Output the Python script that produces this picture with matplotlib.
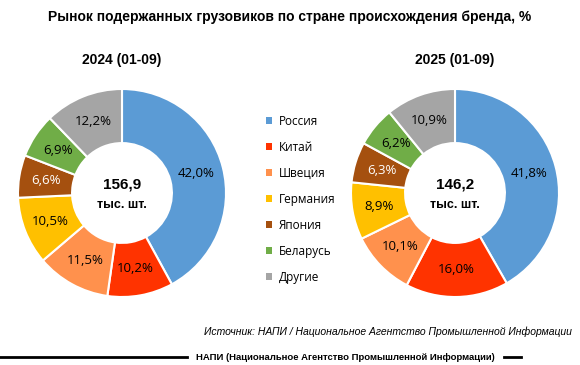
import matplotlib
matplotlib.use("Agg")
import matplotlib.pyplot as plt
import numpy as np
from matplotlib.lines import Line2D
from matplotlib.patches import Patch

categories = ["Россия", "Китай", "Швеция", "Германия", "Япония", "Беларусь", "Другие"]
colors = ["#5B9BD5", "#FF3300", "#FF914D", "#FFC000", "#A5500F", "#70AD47", "#A5A5A5"]
values_2024 = [42.0, 10.2, 11.5, 10.5, 6.6, 6.9, 12.2]
values_2025 = [41.8, 16.0, 10.1, 8.9, 6.3, 6.2, 10.9]
totals = ["156,9", "146,2"]
periods = ["2024 (01-09)", "2025 (01-09)"]
label_white = [False, False, False, False, True, False, False]

W, H = 580, 365
fig = plt.figure(figsize=(W / 100, H / 100), dpi=100)
plt.rcParams["font.family"] = ["Liberation Sans", "DejaVu Sans"]


def donut(cx, cy, r, vals, total):
    # cx, cy in pixels from top-left
    ax = fig.add_axes([(cx - r) / W, (H - cy - r) / H, 2 * r / W, 2 * r / H])
    wedges, _ = ax.pie(vals, colors=colors, startangle=90, counterclock=False,
                       radius=1.0, wedgeprops=dict(width=0.52, edgecolor="white", linewidth=1.5))
    for w, v, wh in zip(wedges, vals, label_white):
        ang = np.deg2rad((w.theta1 + w.theta2) / 2)
        rr = 0.74
        ax.text(rr * np.cos(ang), rr * np.sin(ang), f"{v:.1f}".replace(".", ",") + "%",
                ha="center", va="center", fontsize=9.5,
                color="white" if wh else "black", family=["Open Sans", "DejaVu Sans"])
    ax.text(0, 0.08, total, ha="center", va="center", fontsize=11, fontweight="bold")
    ax.text(0, -0.12, "тыс. шт.", ha="center", va="center", fontsize=9, fontweight="bold")
    ax.set_xlim(-1, 1)
    ax.set_ylim(-1, 1)
    ax.set_aspect("equal")
    ax.axis("off")


donut(122, 193, 104, values_2024, totals[0])
donut(455, 193, 104, values_2025, totals[1])

fig.text(0.5, 1 - 17 / H, "Рынок подержанных грузовиков по стране происхождения бренда, %",
         ha="center", va="center", fontsize=10, fontweight="bold")
fig.text(122 / W, 1 - 60 / H, periods[0], ha="center", va="center", fontsize=10, fontweight="bold")
fig.text(455 / W, 1 - 60 / H, periods[1], ha="center", va="center", fontsize=10, fontweight="bold")

handles = [Patch(facecolor=c, edgecolor="none") for c in colors]
fig.legend(handles, categories, loc="upper left", bbox_to_anchor=(255 / W, 1 - 104 / H),
           frameon=False, handlelength=0.55, handleheight=0.55,
           handletextpad=0.6, labelspacing=1.1, prop={"family": ["Open Sans", "DejaVu Sans"], "size": 8.5})

fig.text(572 / W, 1 - 332 / H, "Источник: НАПИ / Национальное Агентство Промышленной Информации",
         ha="right", va="center", fontsize=7.5, style="italic")

y_line = 1 - 357 / H
fig.add_artist(Line2D([0, 187 / W], [y_line, y_line], color="black", lw=2, transform=fig.transFigure))
fig.add_artist(Line2D([504 / W, 521 / W], [y_line, y_line], color="black", lw=2, transform=fig.transFigure))
fig.text(345 / W, y_line, "НАПИ (Национальное Агентство Промышленной Информации)",
         ha="center", va="center", fontsize=6.8, fontweight="bold",
         family=["Liberation Sans", "DejaVu Sans"])

fig.savefig("out.png", dpi=100)
